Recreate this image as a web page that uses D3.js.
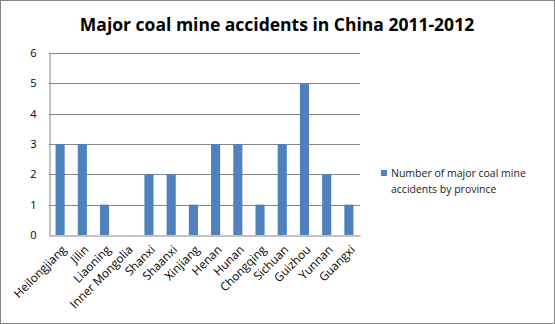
<!DOCTYPE html>
<html>
<head>
<meta charset="utf-8">
<script src="https://cdn.jsdelivr.net/npm/d3@7"></script>
<style>
  html, body { margin: 0; padding: 0; background: #fff; }
  svg { display: block; }
</style>
</head>
<body>
<script>
// Major coal mine accidents per province, 2011-2012
const provinces = ["Heilongjiang", "Jilin", "Liaoning", "Inner Mongolia", "Shanxi", "Shaanxi",
  "Xinjiang", "Henan", "Hunan", "Chongqing", "Sichuan", "Guizhou", "Yunnan", "Guangxi"];
const accidents = [3, 3, 1, 0, 2, 2, 1, 3, 3, 1, 3, 5, 2, 1];
const yTicks = [0, 1, 2, 3, 4, 5, 6];
const seriesName = ["Number of major coal mine", "accidents by province"];
const titleText = "Major coal mine accidents in China 2011-2012";

const W = 555, H = 324;
const font = "'Open Sans', 'DejaVu Sans', sans-serif";
const plot = { left: 49, right: 360, top: 53, bottom: 235 };

const svg = d3.select("body").append("svg").attr("width", W).attr("height", H);

// chart frame
svg.append("rect").attr("x", 0.5).attr("y", 0.5).attr("width", W - 1).attr("height", H - 1)
  .attr("fill", "#fff").attr("stroke", "#868686");

const x = d3.scaleBand().domain(provinces).range([plot.left, plot.right]).paddingInner(0.59).paddingOuter(0.295);
const y = d3.scaleLinear().domain([0, 6]).range([plot.bottom, plot.top]);

// gridlines
svg.append("g").selectAll("line").data(yTicks.filter(d => d > 0)).join("line")
  .attr("x1", plot.left).attr("x2", plot.right)
  .attr("y1", d => Math.round(y(d)) + 0.5).attr("y2", d => Math.round(y(d)) + 0.5)
  .attr("stroke", "#868686").attr("stroke-width", 1);

// bars
svg.append("g").selectAll("rect").data(provinces).join("rect")
  .attr("x", (d) => x(d))
  .attr("width", x.bandwidth())
  .attr("y", (d, i) => y(accidents[i]))
  .attr("height", (d, i) => y(0) - y(accidents[i]))
  .attr("fill", "#4F81BD");

// y axis
const yAxis = svg.append("g").attr("transform", `translate(${plot.left + 0.5},0)`)
  .call(d3.axisLeft(y).tickValues(yTicks).tickFormat(d3.format("d")).tickSize(0).tickPadding(13));
yAxis.select(".domain").attr("stroke", "#868686");
yAxis.selectAll("text").attr("font-family", font).attr("font-size", 11).attr("fill", "#000");

// x axis
const xAxis = svg.append("g").attr("transform", `translate(0,${Math.round(plot.bottom) + 0.5})`)
  .call(d3.axisBottom(x).tickSize(0).tickPadding(0));
xAxis.select(".domain").attr("stroke", "#868686");
xAxis.selectAll("text")
  .attr("font-family", font).attr("font-size", 11.8).attr("fill", "#000")
  .attr("text-anchor", "end")
  .attr("dy", "0.35em")
  .attr("transform", "translate(4,12) rotate(-45)");

// title
svg.append("text").attr("x", 277).attr("y", 31).attr("text-anchor", "middle")
  .attr("font-family", font).attr("font-weight", "bold").attr("font-size", 17.5)
  .attr("fill", "#000").text(titleText);

// legend
const lg = svg.append("g");
lg.append("rect").attr("x", 381).attr("y", 170).attr("width", 6).attr("height", 6).attr("fill", "#4F81BD");
lg.selectAll("text").data(seriesName).join("text")
  .attr("x", 391).attr("y", (d, i) => 177 + i * 16)
  .attr("font-family", font).attr("font-size", 10.5).attr("fill", "#222")
  .text(d => d);
</script>
</body>
</html>
